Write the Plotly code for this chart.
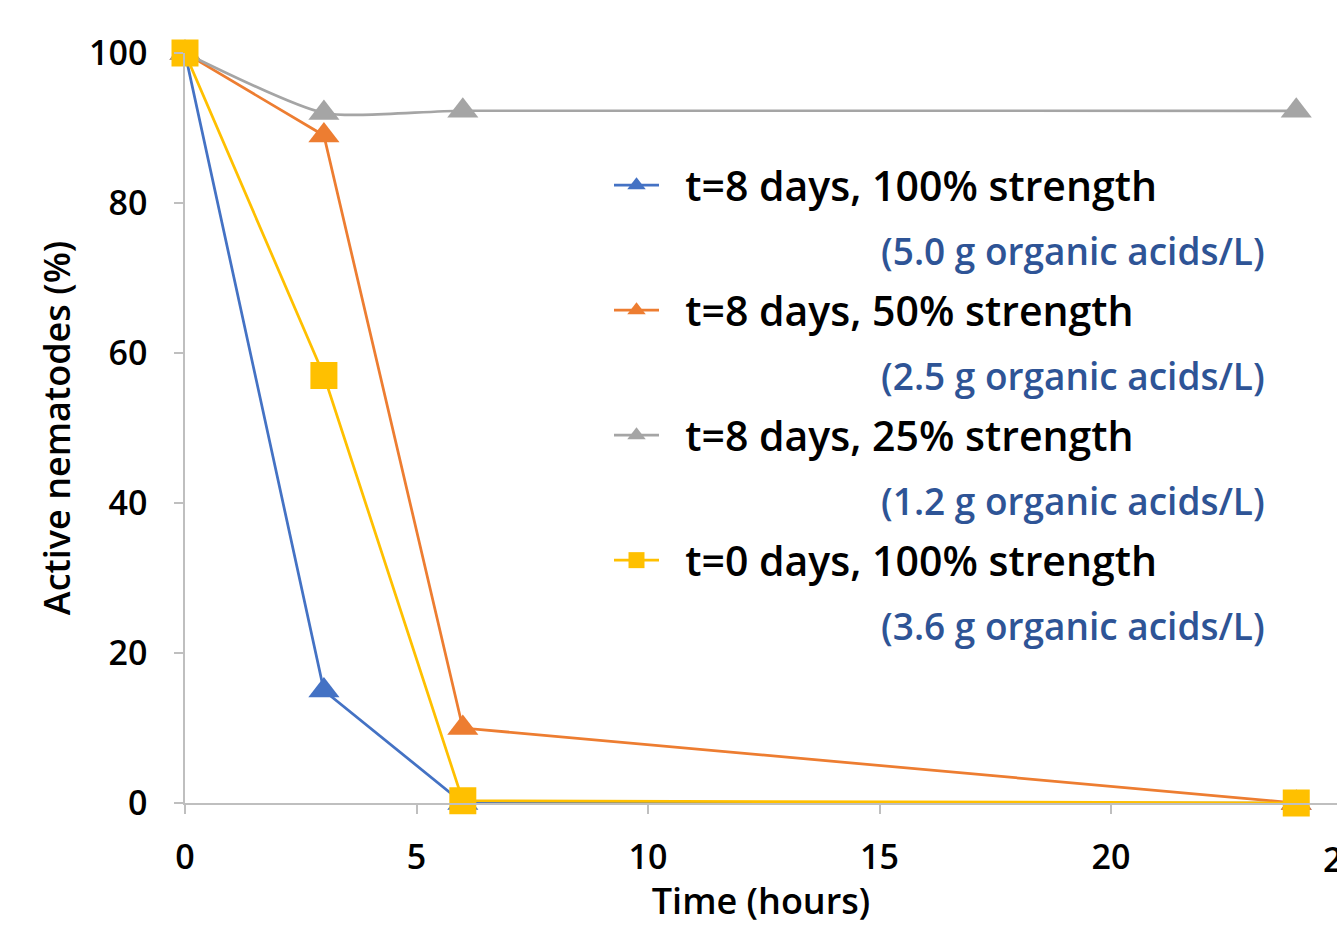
import plotly.graph_objects as go

time_hours = [0, 3, 6, 24]
series_names = [
    "t=8 days, 100% strength",
    "t=8 days, 50% strength",
    "t=8 days, 25% strength",
    "t=0 days, 100% strength",
]
sub_labels = [
    "(5.0 g organic acids/L)",
    "(2.5 g organic acids/L)",
    "(1.2 g organic acids/L)",
    "(3.6 g organic acids/L)",
]
blue_100 = [100, 15, 0, 0]
orange_50 = [100, 89, 10, 0]
gray_25 = [100, 92, 92.3, 92.3]
yellow_t0 = [100, 57, 0.3, 0]

colors = ["#4472C4", "#ED7D31", "#A5A5A5", "#FFC000"]
symbols = ["triangle-up", "triangle-up", "triangle-up", "square"]
sizes = [27, 27, 27, 27]
shapes = ["linear", "linear", "spline", "linear"]
values = [blue_100, orange_50, gray_25, yellow_t0]

FONT = "Open Sans"
W = 600

fig = go.Figure()
for i in range(4):
    fig.add_trace(go.Scatter(
        x=time_hours, y=values[i], name="\u00a0\u00a0" + series_names[i], mode="lines+markers",
        line=dict(color=colors[i], width=2.75, shape=shapes[i], smoothing=0.6),
        marker=dict(symbol=symbols[i], size=sizes[i], color=colors[i]),
        cliponaxis=False, legendgroup="g%d" % i,
    ))

ann = []
ypix = [250, 375, 500, 625]
for i, t in enumerate(sub_labels):
    ann.append(dict(text=t, xref="paper", yref="paper", x=(879 - 185) / 1152,
                    y=(803 - ypix[i]) / 750, xanchor="left", yanchor="middle",
                    showarrow=False, font=dict(family=FONT, size=37, color="#2E5496", weight=W)))
ann.append(dict(text="25", xref="paper", yref="paper", x=(1342 - 185) / 1152, y=0,
                yshift=-56, xanchor="center", yanchor="middle", showarrow=False,
                font=dict(family=FONT, size=34, color="black", weight=W)))

fig.update_layout(
    width=1337, height=925,
    margin=dict(l=185, r=0, t=53, b=122),
    paper_bgcolor="white", plot_bgcolor="white",
    font=dict(family=FONT, color="black"),
    showlegend=True,
    legend=dict(x=(609 - 185) / 1152, y=(803 - 152) / 750, xanchor="left", yanchor="top",
                font=dict(family=FONT, size=41, color="black", weight=W),
                tracegroupgap=68.7, bgcolor="rgba(0,0,0,0)", itemwidth=45),
    annotations=ann,
    xaxis=dict(range=[0, 24.88], tickvals=[0, 5, 10, 15, 20], showgrid=False, zeroline=False,
               showline=True, linecolor="#BFBFBF", linewidth=1.5,
               ticks="outside", ticklen=9, tickcolor="#BFBFBF", tickwidth=1.5,
               tickfont=dict(family=FONT, size=34, color="black", weight=W), ticklabelstandoff=14,
               title=dict(text="Time (hours)", font=dict(family=FONT, size=36, color="black", weight=W), standoff=17)),
    yaxis=dict(range=[0, 100], tickvals=[0, 20, 40, 60, 80, 100], showgrid=False, zeroline=False,
               showline=True, linecolor="#BFBFBF", linewidth=1.5,
               ticks="outside", ticklen=9, tickcolor="#BFBFBF", tickwidth=1.5,
               tickfont=dict(family=FONT, size=34, color="black", weight=W), ticklabelstandoff=20,
               title=dict(text="Active nematodes (%)", font=dict(family=FONT, size=36, color="black", weight=W), standoff=8)),
)

fig.write_html("out.html")
